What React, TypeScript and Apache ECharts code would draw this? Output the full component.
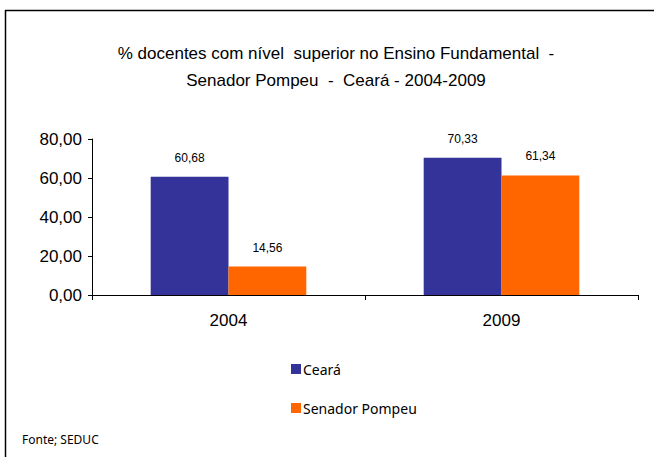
import React, { useEffect, useRef } from "react";
import * as echarts from "echarts";

const categories = ["2004", "2009"];
const cearaValues = [60.68, 70.33];
const senadorValues = [14.56, 61.34];
const seriesNames = ["Ceará", "Senador Pompeu"];
const titleText = "% docentes com nível  superior no Ensino Fundamental  -\nSenador Pompeu  -  Ceará - 2004-2009";
const sourceText = "Fonte; SEDUC";

const fmt = (v: number) => v.toFixed(2).replace(".", ",");

export default function App() {
  const ref = useRef<HTMLDivElement>(null);
  useEffect(() => {
    if (!ref.current) return;
    const chart = echarts.init(ref.current, null, { renderer: "svg" });
    const labelCfg = {
      show: true,
      position: "top",
      distance: 13,
      fontFamily: "Liberation Sans",
      fontSize: 12,
      color: "#000",
      formatter: (p: any) => fmt(p.value),
    };
    chart.setOption({
      animation: false,
      backgroundColor: "#fff",
      title: {
        text: titleText,
        left: 331,
        top: 35,
        textAlign: "center",
        textStyle: {
          fontFamily: "Liberation Sans",
          fontSize: 17,
          fontWeight: "normal",
          color: "#000",
          lineHeight: 27,
        },
      },
      grid: { left: 92, top: 139, right: 16, bottom: 162, containLabel: false },
      xAxis: {
        type: "category",
        data: categories,
        axisLine: { lineStyle: { color: "#000", width: 1 } },
        axisTick: { show: true, length: 5, lineStyle: { color: "#000" } },
        axisLabel: {
          fontFamily: "Liberation Sans",
          fontSize: 17,
          color: "#000",
          margin: 17,
        },
      },
      yAxis: {
        type: "value",
        min: 0,
        max: 80,
        interval: 20,
        axisLine: { show: true, lineStyle: { color: "#000", width: 1 } },
        axisTick: { show: true, length: 4, lineStyle: { color: "#000" } },
        splitLine: { show: false },
        axisLabel: {
          fontFamily: "Liberation Sans",
          fontSize: 17,
          color: "#000",
          margin: 10,
          formatter: (v: number) => fmt(v),
        },
      },
      legend: {
        orient: "vertical",
        left: 291,
        top: 362,
        padding: 0,
        itemWidth: 10,
        itemHeight: 10,
        itemGap: 25,
        icon: "rect",
        data: seriesNames,
        textStyle: { fontFamily: "Noto Sans", fontSize: 14, color: "#000", padding: [0, 0, 0, -3] },
      },
      series: [
        {
          name: seriesNames[0],
          type: "bar",
          data: cearaValues,
          barGap: "0%",
          barCategoryGap: "43%",
          itemStyle: { color: "#333399" },
          label: labelCfg,
        },
        {
          name: seriesNames[1],
          type: "bar",
          data: senadorValues,
          barGap: "0%",
          barCategoryGap: "43%",
          itemStyle: { color: "#FF6600" },
          label: labelCfg,
        },
      ],
      graphic: [
        { type: "line", shape: { x1: 5, y1: 10.5, x2: 654, y2: 10.5 }, style: { stroke: "#000", lineWidth: 1.5 } },
        { type: "line", shape: { x1: 5.5, y1: 10, x2: 5.5, y2: 457 }, style: { stroke: "#000", lineWidth: 1.5 } },
        {
          type: "text",
          left: 22,
          top: 433,
          style: { text: sourceText, fontFamily: "Noto Sans", fontSize: 12, fill: "#000" },
        },
      ],
    });
    return () => chart.dispose();
  }, []);
  return (
    <div
      ref={ref}
      style={{ position: "absolute", left: 0, top: 0, width: 654, height: 457 }}
    />
  );
}
